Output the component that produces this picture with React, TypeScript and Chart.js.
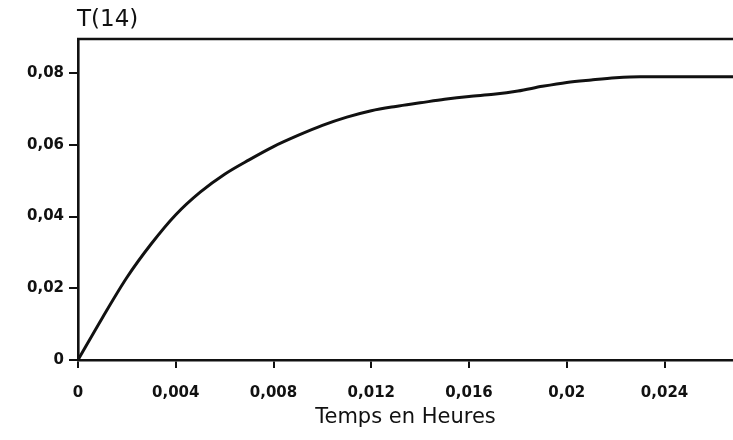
import React, { useEffect, useRef } from "react";
import { Chart, registerables } from "chart.js";

Chart.register(...registerables);

const timeHours = [0, 0.001, 0.002, 0.003, 0.004, 0.005, 0.006, 0.007, 0.008, 0.009, 0.01, 0.011, 0.012, 0.013, 0.014, 0.015, 0.016, 0.017, 0.018, 0.019, 0.02, 0.021, 0.022, 0.023, 0.0268];
const t14 = [0, 0.0118, 0.023, 0.0324, 0.0405, 0.0468, 0.0518, 0.0558, 0.0595, 0.0626, 0.0654, 0.0677, 0.0695, 0.0707, 0.0717, 0.0727, 0.0735, 0.0741, 0.075, 0.0763, 0.0774, 0.0781, 0.0787, 0.079, 0.079];

const xTickValues = [0, 0.004, 0.008, 0.012, 0.016, 0.02, 0.024];
const xTickLabels = ["0", "0,004", "0,008", "0,012", "0,016", "0,02", "0,024"];
const yTickValues = [0, 0.02, 0.04, 0.06, 0.08];
const yTickLabels = ["0", "0,02", "0,04", "0,06", "0,08"];

const yTitle = "T(14)";
const xTitle = "Temps en Heures";

const INK = "#111";

const framePlugin = {
  id: "frame",
  afterDraw(chart: any) {
    const { ctx, chartArea } = chart;
    ctx.save();
    ctx.strokeStyle = INK;
    ctx.lineWidth = 2.6;
    ctx.beginPath();
    ctx.moveTo(chartArea.left - 1, chartArea.top);
    ctx.lineTo(chartArea.right, chartArea.top);
    ctx.stroke();
    ctx.fillStyle = INK;
    ctx.font = "23px 'DejaVu Sans'";
    ctx.textBaseline = "alphabetic";
    ctx.textAlign = "left";
    ctx.fillText(yTitle, chartArea.left - 1, 26);
    ctx.restore();
  },
};

export default function App() {
  const ref = useRef<HTMLCanvasElement | null>(null);
  useEffect(() => {
    if (!ref.current) return;
    const chart = new Chart(ref.current, {
      type: "line",
      data: {
        datasets: [
          {
            data: timeHours.map((x, i) => ({ x, y: t14[i] })),
            borderColor: INK,
            borderWidth: 3,
            pointRadius: 0,
            fill: false,
            cubicInterpolationMode: "monotone",
          },
        ],
      },
      options: {
        animation: false,
        responsive: true,
        maintainAspectRatio: false,
        devicePixelRatio: 1,
        layout: { padding: { top: 39, right: 0, left: 0, bottom: 0 } },
        plugins: { legend: { display: false }, tooltip: { enabled: false } },
        scales: {
          x: {
            type: "linear",
            min: 0,
            max: 0.0268,
            afterFit: (s: any) => { s.height = 80; },
            afterBuildTicks: (s: any) => { s.ticks = xTickValues.map((v) => ({ value: v })); },
            grid: { drawOnChartArea: false, drawTicks: true, tickLength: 8, color: INK, lineWidth: 2 },
            border: { display: true, color: INK, width: 2.6 },
            ticks: {
              color: INK,
              padding: 16,
              maxRotation: 0,
              font: { family: "DejaVu Sans", size: 15, weight: "bold" },
              callback: (v: any) => {
                const i = xTickValues.findIndex((t) => Math.abs(t - v) < 1e-9);
                return i >= 0 ? xTickLabels[i] : "";
              },
            },
            title: {
              display: true,
              text: xTitle,
              color: INK,
              font: { family: "DejaVu Sans", size: 21 },
              padding: { top: 0, bottom: 10 },
            },
          },
          y: {
            type: "linear",
            min: 0,
            max: 0.0895,
            afterFit: (s: any) => { s.width = 78; },
            afterBuildTicks: (s: any) => { s.ticks = yTickValues.map((v) => ({ value: v })); },
            grid: { drawOnChartArea: false, drawTicks: true, tickLength: 9, color: INK, lineWidth: 2 },
            border: { display: true, color: INK, width: 2.6 },
            ticks: {
              color: INK,
              padding: 5,
              font: { family: "DejaVu Sans", size: 15, weight: "bold" },
              callback: (v: any) => {
                const i = yTickValues.findIndex((t) => Math.abs(t - v) < 1e-9);
                return i >= 0 ? yTickLabels[i] : "";
              },
            },
          },
        },
      },
      plugins: [framePlugin],
    } as any);
    return () => chart.destroy();
  }, []);
  return (
    <div style={{ position: "fixed", left: 0, top: 0, width: 733, height: 440, background: "#fff" }}>
      <canvas ref={ref} />
    </div>
  );
}
